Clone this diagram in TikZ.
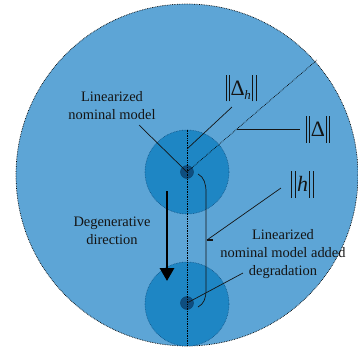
\documentclass[tikz,border=0pt]{standalone}
\usepackage{fontspec}
\setmainfont{Liberation Serif}
\usetikzlibrary{arrows.meta}
\definecolor{bigblue}{RGB}{93,165,214}
\definecolor{midblue}{RGB}{30,134,196}
\definecolor{dotblue}{RGB}{14,78,128}
\definecolor{txt}{RGB}{20,20,20}
\newcommand\nbar{\rule[-6pt]{0.9pt}{27pt}\kern2.4pt\rule[-6pt]{0.9pt}{27pt}}
\begin{document}
\begin{tikzpicture}[x=1bp,y=-1bp,
  lbl/.style={font=\fontsize{14.5}{18}\selectfont, align=center, inner sep=0pt, text=txt},
  nrm/.style={font=\fontsize{22}{24}\selectfont, inner sep=0pt, text=txt},
  leader/.style={line width=0.7pt, draw=txt},
  guide/.style={line width=0.7pt, densely dotted, draw=black},
  bigdisc/.style={circle, fill=bigblue, draw=black, densely dotted, line width=0.7pt, minimum size=342bp, inner sep=0pt},
  middisc/.style={circle, fill=midblue, draw=dotblue, densely dotted, line width=0.6pt, minimum size=84bp, inner sep=0pt},
  pt/.style={circle, fill=dotblue, draw=dotblue!80!black, line width=0.4pt, minimum size=13bp, inner sep=0pt}]
\useasboundingbox (0,0) rectangle (358,349);
\begin{scope}
\clip (0,0) rectangle (358,349);
\node[bigdisc] (big) at (187,175) {};
\node[middisc] (m1) at (187,172) {};
\node[middisc] (m2) at (187,304) {};
\node[pt] (d1) at (187,172) {};
\node[pt] (d2) at (187,303) {};
\coordinate (rim) at (317,60);
\draw[guide] (m1.north) -- (m2.south);
\draw[guide] (d1.center) -- (rim);
\end{scope}
% labels
\node[lbl] (lnm) at (112,106) {Linearized\\nominal model};
\node[nrm] (dh) at (241,88) {\nbar\kern1pt Δ\kern-0.5pt\raisebox{-4pt}{\fontsize{13}{13}\selectfont\itshape h}\kern1.5pt\nbar};
\node[nrm] (dd) at (318,129.5) {\nbar\kern1pt Δ\kern1pt\nbar};
\node[nrm] (hh) at (302.5,184.5) {\nbar\kern1.5pt{\itshape h}\kern1.5pt\nbar};
\node[lbl] (deg) at (112,231) {Degenerative\\direction};
\node[lbl] (lnd) at (283,254) {Linearized\\nominal model added\\degradation};
% leader coordinates
\coordinate (a1) at (139,125);
\coordinate (a2) at (232,107);
\coordinate (a2e) at (187,149);
\coordinate (a3) at (237,129);
\coordinate (a3e) at (300,129);
\coordinate (a4) at (281,188);
\coordinate (a4e) at (207,240);
\coordinate (a5) at (243,273);
\coordinate (br1) at (198,174);
\coordinate (br2) at (206,192);
\coordinate (br3) at (206,290);
\coordinate (br4) at (198,307);
\coordinate (ar1) at (167,191);
\coordinate (ar2) at (167,281);
% leaders
\draw[leader] (a1) -- (d1.center);
\draw[leader] (a2) -- (a2e);
\draw[leader] (a3) -- (a3e);
\draw[leader] (a4) -- (a4e);
\draw[line width=1.3pt, draw=txt] (a4e) -- ++(6,0);
\draw[leader] (a5) -- (d2.center);
\draw[leader] (br1) .. controls (204,177) and (206,184) .. (br2) -- (br3) .. controls (206,298) and (204,304) .. (br4);
\draw[line width=3pt, draw=black, -{Triangle[width=14bp,length=13bp]}] (ar1) -- (ar2);
\end{tikzpicture}
\end{document}
